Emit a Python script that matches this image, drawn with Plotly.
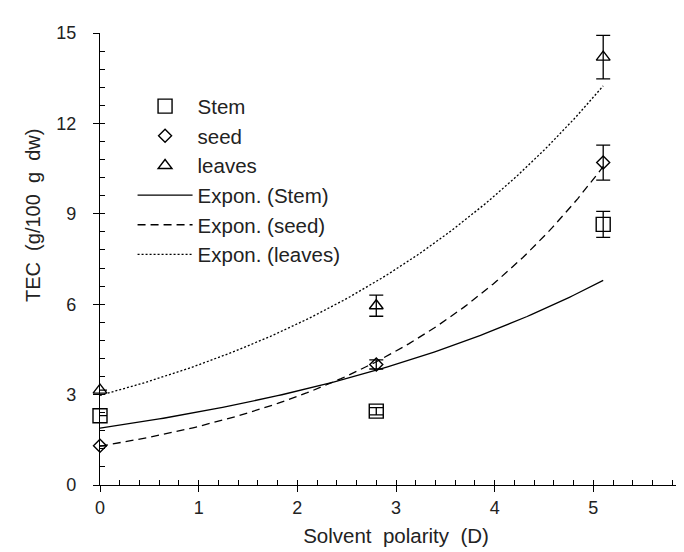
import numpy as np
import plotly.graph_objects as go

# Data
polarity = [0.0, 2.8, 5.1]
stem = [2.3, 2.45, 8.65]
stem_err = [0.0, 0.12, 0.43]
seed = [1.3, 4.0, 10.7]
seed_err = [0.0, 0.15, 0.58]
leaves = [3.15, 5.95, 14.2]
leaves_err = [0.0, 0.35, 0.72]

series_names = ["Stem", "seed", "leaves"]
symbols = ["square-open", "diamond-open", "triangle-up-open"]
marker_sizes = [14, 10, 12]
dashes = ["solid", "8px,5px", "2px,2px"]

FONT = "Liberation Sans, Arial, sans-serif"
TXT = "#222222"

fig = go.Figure()

data = [(stem, stem_err), (seed, seed_err), (leaves, leaves_err)]
for name, sym, msize, (vals, err) in zip(series_names, symbols, marker_sizes, data):
    fig.add_trace(go.Scatter(
        x=polarity, y=vals, mode="markers", name=name, cliponaxis=False,
        marker=dict(symbol=sym, size=msize, color="black", line=dict(width=1.4, color="black")),
        error_y=dict(type="data", array=err, visible=True, color="black", thickness=1.3, width=7),
    ))

# Exponential trendlines (least squares on ln y, like a spreadsheet "Expon." trendline)
xs = np.linspace(min(polarity), max(polarity), 120)
for name, dash, (vals, err) in zip(series_names, dashes, data):
    b, lna = np.polyfit(polarity, np.log(vals), 1)
    fig.add_trace(go.Scatter(
        x=xs, y=np.exp(lna) * np.exp(b * xs), mode="lines",
        name=f"Expon. ({name})", cliponaxis=False,
        line=dict(color="black", width=1.3, dash=dash),
    ))

# empty helper traces so the overlay axes carrying the inner ticks are drawn
fig.add_trace(go.Scatter(x=[], y=[], xaxis="x2", yaxis="y", showlegend=False, hoverinfo="skip"))
fig.add_trace(go.Scatter(x=[], y=[], xaxis="x", yaxis="y2", showlegend=False, hoverinfo="skip"))

axis_common = dict(
    showgrid=False, zeroline=False, showline=True, linecolor="black", linewidth=1.3,
    ticks="outside", ticklen=6, tickwidth=1.3, tickcolor="black",
    tickfont=dict(size=18, family=FONT, color=TXT),
    automargin=False,
)
inner_common = dict(
    ticks="inside", ticklen=5, tickwidth=1.3, tickcolor="black",
    showticklabels=False, showline=False, showgrid=False, zeroline=False,
)

fig.update_layout(
    width=684, height=552,
    margin=dict(l=92, r=0, t=25, b=75),
    paper_bgcolor="white", plot_bgcolor="white",
    font=dict(family=FONT, color=TXT),
    showlegend=True,
    legend=dict(
        x=0.055, y=0.882, xanchor="left", yanchor="top",
        bgcolor="rgba(0,0,0,0)", borderwidth=0,
        font=dict(size=20.5, family=FONT, color=TXT),
        itemwidth=55, tracegroupgap=0,
    ),
    xaxis=dict(
        range=[0, 6], tick0=0, dtick=1, **axis_common,
        title=dict(text="Solvent  polarity  (D)", font=dict(size=20.5, family=FONT, color=TXT), standoff=11),
    ),
    yaxis=dict(
        range=[0, 15], tick0=0, dtick=3, **axis_common,
        ticklabelstandoff=13,
    ),
    xaxis2=dict(overlaying="x", matches="x", anchor="y", range=[0, 6], tick0=0, dtick=0.2, **inner_common),
    yaxis2=dict(overlaying="y", matches="y", anchor="x", side="left", range=[0, 15], tick0=0, dtick=0.6, **inner_common),
    annotations=[dict(
        text="TEC  (g/100  g  dw)", textangle=-90, showarrow=False,
        xref="paper", yref="paper", x=(25 - 92) / 592, y=(477 - 208) / 452,
        xanchor="center", yanchor="middle",
        font=dict(size=20, family=FONT, color=TXT),
    )],
)

fig.write_html("out.html")
